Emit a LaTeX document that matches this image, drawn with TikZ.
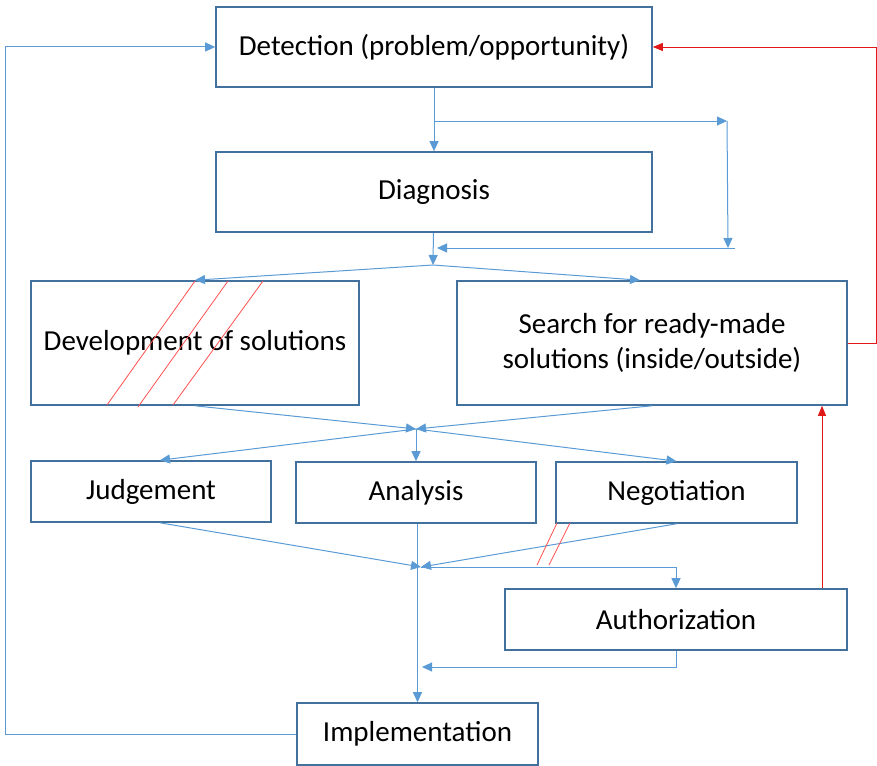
\documentclass[tikz,border=0pt]{standalone}
\usepackage{fontspec}
\setmainfont{Carlito}
\usetikzlibrary{arrows.meta, positioning}
\usepackage{xcolor}
\definecolor{boxline}{HTML}{41719C}
\definecolor{flow}{HTML}{5B9BD5}
\definecolor{back}{HTML}{E01818}
\definecolor{hatchred}{HTML}{FF5050}

\begin{document}
\begin{tikzpicture}[
x=1pt, y=-1pt,
font=\fontsize{29}{35}\selectfont,
box/.style={draw=boxline,
line width=1.6pt,
rectangle,
fill=white,
inner sep=0pt,
align=center},
arrow/.style={-{Triangle[length=10pt,width=9pt]}, flow, line width=1pt},
line/.style={flow, line width=1pt},
redarrow/.style={-{Triangle[length=10pt,width=8pt]}, back, line width=0.9pt},
hatch/.style={hatchred, line width=0.8pt}
]

\useasboundingbox (0,0) rectangle (877,765);

\node[box, minimum width=436pt, minimum height=80pt] (det) at (434,47) {Detection (problem/opportunity)};
\node[box, minimum width=436pt, minimum height=80pt] (diag) at (434,192) {Diagnosis};
\node[box, minimum width=328pt, minimum height=124pt] (dev) at (195,343) {Development of solutions};
\node[box, minimum width=390pt, minimum height=124pt] (search) at (652,343) {Search for ready-made\\solutions (inside/outside)};
\node[box, minimum width=240pt, minimum height=61pt] (judge) at (151,491.5) {Judgement};
\node[box, minimum width=240pt, minimum height=61pt] (analysis) at (416,492.5) {Analysis};
\node[box, minimum width=241pt, minimum height=61pt] (nego) at (676.5,492.5) {Negotiation};
\node[box, minimum width=342pt, minimum height=61pt] (auth) at (676,619.5) {Authorization};
\node[box, minimum width=241pt, minimum height=62pt] (impl) at (417.5,734) {Implementation};

% junction points
\coordinate (split) at (434,121);
\coordinate (loopr) at (727,121);
\coordinate (loopb) at (728,248);
\coordinate (loopc) at (735,248);
\coordinate (merge) at (437,248);
\coordinate (hubA) at (433,265);
\coordinate (hubB) at (416,429);
\coordinate (hubC) at (421,567);
\coordinate (hubD) at (422,667);
\coordinate (rtap) at (822,0);
\coordinate (redr) at (876,0);
\coordinate (lback) at (5,0);

\draw[arrow] (det) -- (diag);
\draw[arrow] (split) -- (loopr);
\draw[arrow] (loopr) -- (loopb);
\draw[arrow] (loopc) -- (merge);
\draw[arrow] (diag) -- (hubA);
\draw[arrow] (hubA) -- (dev.north);
\draw[arrow] (hubA) -- ([xshift=-12pt]search.north);
\draw[arrow] (dev.south) -- (hubB);
\draw[arrow] (search.south) -- (hubB);
\draw[arrow] (hubB) -- ([xshift=9pt]judge.north);
\draw[arrow] (hubB) -- (analysis.north -| hubB);
\draw[arrow] (hubB) -- (nego.north);
\draw[arrow] ([xshift=9pt]judge.south) -- (hubC);
\draw[arrow] (nego.south) -- (hubC);
\draw[arrow] (analysis.south -| impl.north) -- (impl.north);
\draw[arrow] (hubC) -| (auth.north);
\draw[arrow] (auth.south) |- (hubD);
\draw[arrow] (impl.west) -| (lback |- det.west) -- (det.west);

\draw[redarrow] (auth.north -| rtap) -- (search.south -| rtap);
\draw[redarrow] (search.east) -| (redr |- det.east) -- (det.east);

% crossed out
\draw[hatch] (107,405) -- (195,281);
\draw[hatch] (138,407) -- (228,281);
\draw[hatch] (173,405) -- (263,281);
\draw[hatch] (537,565) -- (557,523);
\draw[hatch] (549,565) -- (570,523);

\end{tikzpicture}
\end{document}
